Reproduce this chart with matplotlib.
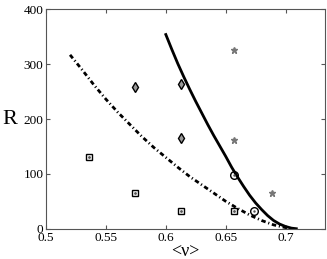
import matplotlib
matplotlib.use('Agg')
from matplotlib import pyplot as plt

plt.rcParams['font.family'] = ['Liberation Serif', 'DejaVu Serif']

# markers
sq_x = [0.536, 0.574, 0.613, 0.657]
sq_y = [130, 65, 33, 33]
dia_x = [0.574, 0.613, 0.613]
dia_y = [258, 263, 165]
circ_x = [0.657, 0.674]
circ_y = [98, 33]
star_x = [0.657, 0.657, 0.689]
star_y = [325, 162, 65]

# solid curve
solid_x = [0.600, 0.605, 0.610, 0.615, 0.620, 0.625, 0.630, 0.635, 0.640, 0.645,
           0.650, 0.655, 0.660, 0.665, 0.670, 0.675, 0.680, 0.685, 0.690, 0.695,
           0.700, 0.705, 0.709]
solid_y = [354, 327, 301, 277, 254, 232, 211, 190, 170, 151,
           132, 112, 94, 77, 61, 47, 35, 24, 15, 8.5,
           4, 1, 0]

# dash-dot curve
dd_x = [0.520, 0.530, 0.540, 0.550, 0.560, 0.570, 0.580, 0.590, 0.600, 0.610,
        0.620, 0.630, 0.640, 0.650, 0.660, 0.670, 0.680, 0.690, 0.700, 0.704]
dd_y = [317, 290, 262, 236, 212, 190, 168, 148, 130, 112,
        95, 80, 65, 50, 37, 25, 15, 7, 2, 0]

fig = plt.figure(figsize=(3.27, 2.59), dpi=100)
ax = fig.add_axes([0.141, 0.117, 0.853, 0.847])

ax.plot(solid_x, solid_y, color='black', linewidth=2.0)
ax.plot(dd_x, dd_y, color='black', linewidth=2.0, dashes=(1.6, 1.0, 0.4, 1.0))

ax.plot(sq_x, sq_y, 's', mfc='none', mec='black', ms=4.5, mew=1.0)
ax.plot(sq_x, sq_y, '.', color='#555555', ms=2)
ax.plot(dia_x, dia_y, 'd', mfc='#999999', mec='black', ms=5, mew=1.0)
ax.plot(circ_x, circ_y, 'o', mfc='none', mec='black', ms=5.5, mew=1.0)
ax.plot(circ_x, circ_y, '.', color='#555555', ms=1.5)
ax.plot(star_x, star_y, '*', color='#777777', ms=5)

ax.set_xlim(0.5, 0.733)
ax.set_ylim(0, 400)
ax.set_xticks([0.5, 0.55, 0.6, 0.65, 0.7])
ax.set_xticklabels(['0.5', '0.55', '0.6', '0.65', '0.7'])
ax.set_yticks([0, 100, 200, 300, 400])
ax.tick_params(direction='in', top=True, right=True, labelsize=9.5, length=3,
               color='#555555', pad=2)
ax.tick_params(axis='x', pad=2.5)
for s in ax.spines.values():
    s.set_color('#555555')
    s.set_linewidth(0.8)

ax.set_xlabel('<ν>', fontsize=13, labelpad=-1)
ax.set_ylabel('R', fontsize=16, rotation=0, labelpad=10, va='center')

fig.savefig('out.png', dpi=100)
